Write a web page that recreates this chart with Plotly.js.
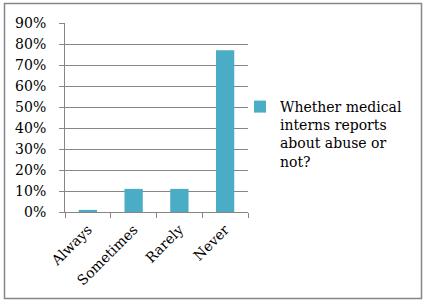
<!DOCTYPE html>
<html><head><meta charset="utf-8">
<script src="https://cdn.plot.ly/plotly-3.0.1.min.js"></script>
<style>html,body{margin:0;padding:0;background:#fff;}#chart{width:425px;height:304px;}</style>
</head><body><div id="chart"></div>
<script>
var categories = ["Always", "Sometimes", "Rarely", "Never"];
var values = [0.01, 0.11, 0.11, 0.77];
var seriesName = "Whether medical<br>interns reports<br>about abuse or<br>not?";
var yTicks = [0, 0.1, 0.2, 0.3, 0.4, 0.5, 0.6, 0.7, 0.8, 0.9];
var yTickLabels = ["0%", "10%", "20%", "30%", "40%", "50%", "60%", "70%", "80%", "90%"];

var font = {family: "DejaVu Serif, Liberation Serif, serif", size: 14, color: "#000"};
var trace = {
  type: "bar", x: categories, y: values, name: seriesName,
  marker: {color: "#4BACC6"}, width: 0.4, showlegend: true
};
var L = 65, R = 177, T = 23, B = 92;
var pw = 425 - L - R, ph = 304 - T - B;
function px(x) { return (x - L) / pw; }
function py(y) { return (304 - B - y) / ph; }
var layout = {
  width: 425, height: 304,
  margin: {l: L, r: R, t: T, b: B, pad: 0},
  paper_bgcolor: "#fff", plot_bgcolor: "#fff",
  font: font,
  showlegend: true,
  legend: {x: px(240), xanchor: "left", y: py(91), yanchor: "top", valign: "top",
    font: {family: font.family, size: 14, color: "#000"}, bgcolor: "rgba(0,0,0,0)",
    tracegroupgap: 0},
  xaxis: {type: "category", tickson: "boundaries", ticks: "outside", ticklen: 5,
    tickcolor: "#868686", showline: true, linecolor: "#868686", linewidth: 1,
    showgrid: false, tickangle: -45, tickfont: font, ticklabelstandoff: 3, fixedrange: true},
  yaxis: {range: [0, 0.9], tickvals: yTicks, ticktext: yTickLabels, ticks: "outside",
    ticklen: 5, tickcolor: "#868686", showline: true, linecolor: "#868686",
    gridcolor: "#868686", gridwidth: 1, zeroline: false, tickfont: font,
    ticklabelstandoff: 10, fixedrange: true},
  shapes: [{type: "rect", xref: "paper", yref: "paper",
    x0: px(4.5), x1: px(421.5), y0: py(3.5), y1: py(298.5),
    line: {color: "#868686", width: 1.5}, fillcolor: "rgba(0,0,0,0)", layer: "below"}]
};
Plotly.newPlot("chart", [trace], layout, {staticPlot: true, displayModeBar: false});
</script></body></html>
